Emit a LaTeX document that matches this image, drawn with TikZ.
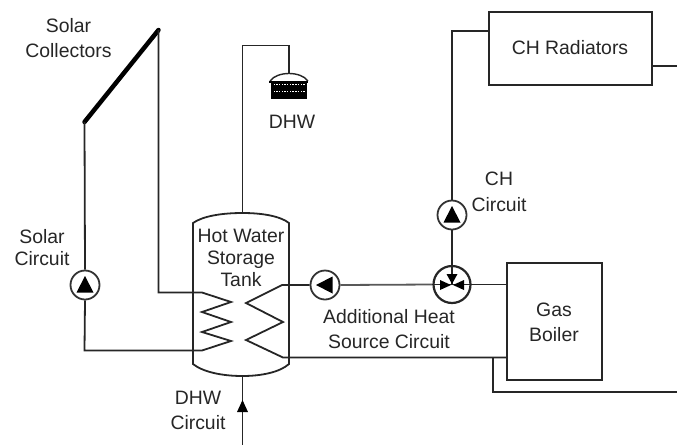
\documentclass[tikz,border=0pt]{standalone}
\usepackage{fontspec}
\setmainfont{Liberation Sans}
\tikzset{
  pipe/.style={line width=1.8pt,draw=black!85,line join=miter},
  lab/.style={font=\fontsize{19.4}{22}\selectfont,text=black!85,inner sep=0pt,align=center},
  boxnode/.style={draw=black!85,line width=2pt,fill=white,inner sep=0pt},
  pumpnode/.style={circle,draw=black!80,line width=1.8pt,fill=white,minimum size=29pt,inner sep=0pt},
  mixnode/.style={circle,draw=black!85,line width=2.2pt,fill=white,minimum size=37pt,inner sep=0pt},
  tri/.style={fill=black,draw=none}
}
\begin{document}
\begin{tikzpicture}[x=1pt,y=-1pt]
\useasboundingbox (0,0) rectangle (677,445);
% boxes and pumps
\node[boxnode,minimum width=163pt,minimum height=73pt] (radiators) at (570.5,48.5) {};
\node[boxnode,minimum width=95pt,minimum height=117pt] (boiler) at (554.5,321.5) {};
\node[pumpnode] (psolar) at (85,285) {};
\node[pumpnode] (padd) at (325,285) {};
\node[pumpnode] (pch) at (452,215) {};
\node[mixnode] (mixer) at (452,284.5) {};
% free ends
\coordinate (sbot) at (84.5,122);
\coordinate (stop) at (158.5,30);
\coordinate (tanktop) at (242.5,213);
\coordinate (tankbot) at (242.5,376);
\coordinate (showertop) at (289,73);
\coordinate (dhwin) at (242.5,445);
\coordinate (e1) at (677,66);
\coordinate (e2) at (677,392);
% tank
\draw[pipe] (193,223) .. controls (203,216) and (222,213) .. (tanktop) .. controls (262,213) and (280,216) .. (289,223)
  -- (289,364) .. controls (280,372) and (262,376) .. (tankbot) .. controls (222,376) and (203,372) .. (193,364) -- cycle;
% solar collector
\draw[line width=4.5pt,black,line cap=round] (sbot) -- (stop);
% connectors
\draw[pipe] (stop) -- (158.5,292.5) -- (202,292.5) -- (231,302) -- (202,312) -- (231,322) -- (202,332) -- (231,341) -- (202,350.5) -- (84.5,350.5) -- (psolar.south);
\draw[pipe] (psolar.north) -- (sbot);
\draw[pipe,draw=black!65] (padd.east) -- (mixer.west);
\draw[pipe] (padd.west) -- (282,285) -- (246,303) -- (283,322) -- (246,340) -- (283,357.5) -- (boiler.west |- 0,357.5);
\draw[pipe] (mixer.center) -- (boiler.west |- mixer.center);
\draw[pipe] (mixer.west) -- (mixer.center);
\draw[pipe] (mixer.center) -- (pch.south);
\draw[pipe] (pch.north) -- (452,31) -- (radiators.west |- 0,31);
\draw[pipe] (radiators.east |- e1) -- (e1);
\draw[pipe] (493,357.5) -- (493,392) -- (e2);
\draw[pipe] (tanktop) -- (242.5,45.5) -- (289,45.5) -- (showertop);
\draw[pipe] (tankbot) -- (dhwin);
% arrow on DHW inlet
\fill[tri] (242.5,400) -- (237,412) -- (248,412) -- cycle;
% pump triangles
\fill[tri] (85,276) -- (76.5,292.5) -- (93.5,292.5) -- cycle;
\fill[tri] (452,206) -- (443.5,222.5) -- (460.5,222.5) -- cycle;
\fill[tri] (316,285) -- (332.5,276.5) -- (332.5,293.5) -- cycle;
% mixer triangles
\fill[tri] (452,284) -- (446.5,274) -- (457.5,274) -- cycle;
\fill[tri] (451,285) -- (440,280) -- (440,290) -- cycle;
\fill[tri] (453,285) -- (464,280) -- (464,290) -- cycle;
% shower
\draw[pipe,line width=1.4pt] (270,81) .. controls (277,71) and (301,71) .. (308,81);
\fill[black] (269,80.5) rectangle (308,83);
\fill[black] (271,82) rectangle (307,98.5);
\foreach \i in {0,...,11}{
  \fill[white] (273.5+2.7*\i,84) rectangle +(1.4,1.4);
  \fill[white] (273.5+2.7*\i,90.6) rectangle +(1.4,1.4);
}
% labels
\node[lab] (l1) at (68.5,38) {Solar\\[3pt]Collectors};
\node[lab] (l2) at (292,121.5) {DHW};
\node[lab] (l3) at (570,48) {CH Radiators};
\node[lab] (l4) at (499,192) {CH\\[3.5pt]Circuit};
\node[lab] (l5) at (42,248) {Solar\\Circuit};
\node[lab] (l6) at (241,258) {Hot Water\\Storage\\Tank};
\node[lab] (l7) at (389,329) {Additional Heat\\[3.5pt]Source Circuit};
\node[lab] (l8) at (554,322.5) {Gas\\[3pt]Boiler};
\node[lab] (l9) at (198,410.5) {DHW\\[3.5pt]Circuit};
\end{tikzpicture}
\end{document}
